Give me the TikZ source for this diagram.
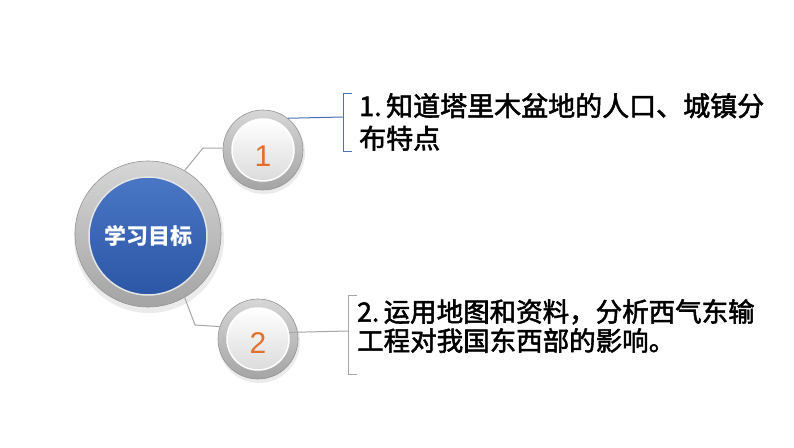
\documentclass[tikz,border=0pt]{standalone}
\usepackage{fontspec}
\setmainfont{Noto Sans CJK SC}
\newfontfamily\cjk{Noto Sans CJK SC}[FakeBold=2]
\newfontfamily\cjkb{Noto Sans CJK SC}
\newfontfamily\numf{Liberation Sans}
\definecolor{blueA}{HTML}{4A76C6}
\definecolor{blueB}{HTML}{2C56A6}
\definecolor{ringA}{HTML}{D6D6D6}
\definecolor{ringB}{HTML}{A4A4A4}
\definecolor{lineblue}{HTML}{4A6FB5}
\definecolor{linegray}{HTML}{A6A6A6}
\definecolor{numorange}{HTML}{E2702A}
\tikzset{
  ring/.style={circle, inner sep=0pt, top color=ringA, bottom color=ringB, draw=ringB!90!black, line width=0.6pt},
  core/.style={circle, inner sep=0pt, top color=blueA, bottom color=blueB, draw=white!80!gray, line width=1.5pt},
  disc/.style={circle, inner sep=0pt, top color=white, bottom color=black!14, draw=white, line width=1.5pt},
  shadowc/.style={circle, inner sep=0pt, fill=black, opacity=0.08},
  conn/.style={draw=linegray, line width=1pt},
  bluebr/.style={draw=lineblue, line width=1pt},
  graybr/.style={draw=linegray, line width=1pt},
  numtxt/.style={text=numorange, font=\numf\fontsize{30}{32}\selectfont},
  goaltxt/.style={align=left, anchor=north west, inner sep=0pt, text=black}
}
\begin{document}
\begin{tikzpicture}[x=1pt, y=-1pt]
\useasboundingbox (0,0) rectangle (794,447);
\fill[white] (0,0) rectangle (794,447);
% shadows
\node[shadowc, minimum size=150pt] (bigsh) at (149,238) {};
\node[shadowc, minimum size=82pt] (s1) at (264,153) {};
\node[shadowc, minimum size=82pt] (s2) at (259,342) {};
% big circle
\node[ring, minimum size=146pt] (bigring) at (148,234) {};
\node[core, minimum size=118pt, font=\cjkb\bfseries\fontsize{22}{24}\selectfont, text=white] (goal) at (148,236) {学习目标};
% circle 1
\node[ring, minimum size=80pt] (c1) at (263,150) {};
\node[disc, minimum size=62pt] (c1in) at (263,150) {};
\node[numtxt] (n1) at (263,156) {1};
% circle 2
\node[ring, minimum size=80pt] (c2) at (258,339) {};
\node[disc, minimum size=62pt] (c2in) at (258,339) {};
\node[numtxt] (n2) at (258,343) {2};
% connectors from big circle
\coordinate (k1) at (203,148);
\draw[conn] (bigring.60) -- (k1) -- (c1.west |- k1);
\coordinate (k2) at (195,325);
\draw[conn] (bigring.-60) -- (k2) -- (c2.162);
% bracket 1
\coordinate (b1t) at (343,93);
\coordinate (b1b) at (343,151);
\coordinate (b1m) at (343,117);
\draw[bluebr] ([xshift=9pt]b1t) -- (b1t) -- (b1b) -- ([xshift=9pt]b1b);
\draw[bluebr] (c1.52) -- (b1m);
% bracket 2
\coordinate (b2t) at (348,295);
\coordinate (b2b) at (348,374);
\coordinate (b2m) at (348,331);
\draw[graybr] ([xshift=9pt]b2t) -- (b2t) -- (b2b) -- ([xshift=9pt]b2b);
\draw[graybr] (c2in.12) -- (b2m);
% texts
\node[goaltxt, font=\cjk\fontsize{27}{32.5}\selectfont] (t1) at (359,93) {1.\,知道塔里木盆地的人口、城镇分\\布特点};
\node[goaltxt, font=\cjk\fontsize{26.5}{29}\selectfont] (t2) at (357,299) {2.\,运用地图和资料，分析西气东输\\工程对我国东西部的影响。};
\end{tikzpicture}
\end{document}
